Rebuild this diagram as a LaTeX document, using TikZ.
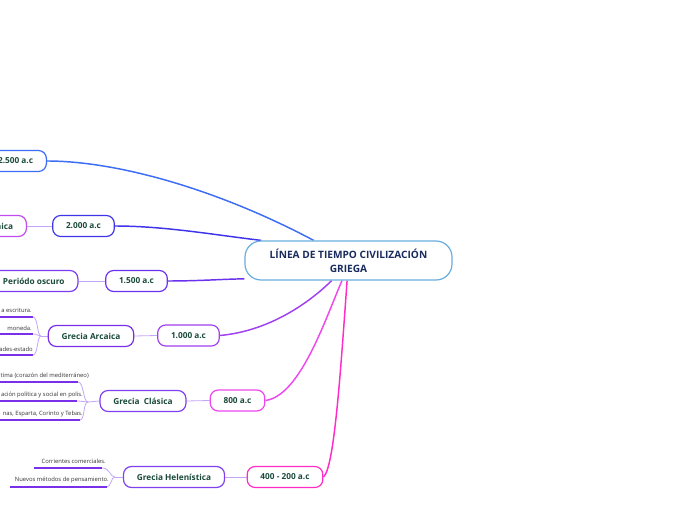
\documentclass[tikz,border=0pt]{standalone}
\usepackage{fontspec}
\setmainfont{Open Sans}
\pgfdeclarelayer{background}
\pgfsetlayers{background,main}
\definecolor{cA}{HTML}{3D6CF5}
\definecolor{cB}{HTML}{4034EA}
\definecolor{cMic}{HTML}{C04CF0}
\definecolor{cC}{HTML}{6A32EE}
\definecolor{cOsc}{HTML}{7B3CF0}
\definecolor{cD}{HTML}{A040F0}
\definecolor{cArc}{HTML}{7A2EE8}
\definecolor{cE}{HTML}{EE48EE}
\definecolor{cF}{HTML}{FF2CC8}
\definecolor{cPer}{HTML}{8040EE}
\definecolor{thinc}{HTML}{C4A6F8}
\definecolor{ulc}{HTML}{7A30E8}
\definecolor{cenb}{HTML}{6AAEE0}
\definecolor{centxt}{HTML}{1A2B5E}
\definecolor{lbl}{HTML}{1A4A3A}
\definecolor{subtxt}{HTML}{333333}
\begin{document}
\begin{tikzpicture}[x=0.75pt,y=-0.75pt,
  box/.style={draw, fill=white, rounded corners=6pt, line width=0.9pt,
    minimum height=21*0.75pt, inner xsep=10pt, inner ysep=0pt,
    font=\bfseries\fontsize{6.2}{7}\selectfont, text=lbl},
  subl/.style={font=\fontsize{4.4}{5}\selectfont, text=subtxt, inner sep=0pt, anchor=base east},
  uline/.style={line width=1.8pt, draw=ulc},
  thinl/.style={line width=0.6pt, draw=thinc},
  mainl/.style={line width=1.1pt}]
\useasboundingbox (0,0) rectangle (696,520);
\clip (0,0) rectangle (696,520);

% centre
\node[draw=cenb, fill=white, line width=0.9pt, rounded corners=12pt,
  minimum width=207*0.75pt, minimum height=39*0.75pt, inner sep=0pt,
  align=center, text=centxt, font=\bfseries\fontsize{7.6}{10.5}\selectfont]
  (center) at (348.5,260.5) {LÍNEA DE TIEMPO CIVILIZACIÓN\\GRIEGA};

% dates
\node[box, draw=cA, anchor=east] (d2500) at (47,161) {2.500 a.c};
\node[box, draw=cB] (d2000) at (83.5,226) {2.000 a.c};
\node[box, draw=cC] (d1500) at (136.5,281) {1.500 a.c};
\node[box, draw=cD] (d1000) at (188.5,335.5) {1.000 a.c};
\node[box, draw=cE] (d800) at (237.5,400.5) {800 a.c};
\node[box, draw=cF] (d400) at (285,477) {400 - 200 a.c};

% periods
\node[box, draw=cMic, anchor=east] (pMic) at (27,226) {Grecia Micénica};
\node[box, draw=cOsc, anchor=east] (pOsc) at (78.5,281) {Periódo oscuro};
\node[box, draw=cArc] (pArc) at (91,336) {Grecia Arcaica};
\node[box, draw=cPer] (pCla) at (143,401) {Grecia\ \ Clásica};
\node[box, draw=cPer] (pHel) at (174,477) {Grecia Helenística};

% sub labels Arcaica
\node[subl] (a1) at (32,313) {a escritura.};
\node[subl] (a2) at (32,330) {moneda.};
\node[subl] (a3) at (33,351) {dades-estado};
\coordinate (ua1) at (33,317);
\coordinate (ua2) at (33,334);
\coordinate (ua3) at (33,355);
\coordinate (jA) at (41,336);

% sub labels Clasica
\node[subl] (c1) at (89,377) {tima (corazón del mediterráneo)};
\node[subl] (c2) at (83,396) {ación política y social en polis.};
\node[subl] (c3) at (83,415) {nas, Esparta, Corinto y Tebas.};
\coordinate (uc1) at (78,382);
\coordinate (uc2) at (77,401);
\coordinate (uc3) at (80,420);
\coordinate (jC) at (88,402);

% sub labels Helenistica
\node[subl] (h1) at (106,463.5) {Corrientes comerciales.};
\node[subl] (h2) at (109,481.5) {Nuevos métodos de pensamiento.};
\coordinate (uh1s) at (34,468);
\coordinate (uh1) at (102,468);
\coordinate (uh2s) at (10,487);
\coordinate (uh2) at (107,487);
\coordinate (jH) at (115,477);

\begin{pgfonlayer}{background}
\fill[white] (0,0) rectangle (696,520);
% main connectors
\draw[mainl, draw=cA] (d2500.east) .. controls (115,161) and (215,188) .. (center.150);
\draw[mainl, draw=cB] (d2000.east) .. controls (165,226) and (215,235) .. (center.167);
\draw[mainl, draw=cC] (d1500.east) .. controls (200,281) and (225,279) .. (center.190);
\draw[mainl, draw=cD] (d1000.east) .. controls (270,331) and (310,302) .. (center.230);
\draw[mainl, draw=cE] (d800.east) .. controls (300,396) and (325,320) .. (center.252);
\draw[mainl, draw=cF] (d400.east) .. controls (334,468) and (340,380) .. (center.266);
% date to period
\draw[thinl] (d2000.west) -- (pMic.east);
\draw[thinl] (d1500.west) -- (pOsc.east);
\draw[thinl] (d1000.west) -- (pArc.east);
\draw[thinl] (d800.west) -- (pCla.east);
\draw[thinl] (d400.west) -- (pHel.east);
% sub connectors
\draw[thinl] (pArc.west) -- (jA);
\draw[thinl] (ua1) .. controls (38,317) and (37,336) .. (jA);
\draw[thinl] (ua2) .. controls (37,334) and (38,336) .. (jA);
\draw[thinl] (ua3) .. controls (38,355) and (37,336) .. (jA);
\draw[thinl] (pCla.west) -- (jC);
\draw[thinl] (uc1) .. controls (84,382) and (83,402) .. (jC);
\draw[thinl] (uc2) .. controls (82,401) and (84,402) .. (jC);
\draw[thinl] (uc3) .. controls (85,420) and (83,402) .. (jC);
\draw[thinl] (pHel.west) -- (jH);
\draw[thinl] (uh1) .. controls (110,468) and (110,477) .. (jH);
\draw[thinl] (uh2) .. controls (111,487) and (111,477) .. (jH);
\end{pgfonlayer}
% underlines
\draw[uline] (-5,317) -- (ua1);
\draw[uline] (-5,334) -- (ua2);
\draw[uline] (-5,355) -- (ua3);
\draw[uline] (-5,382) -- (uc1);
\draw[uline] (-5,401) -- (uc2);
\draw[uline] (-5,420) -- (uc3);
\draw[uline] (uh1s) -- (uh1);
\draw[uline] (uh2s) -- (uh2);
\end{tikzpicture}
\end{document}
